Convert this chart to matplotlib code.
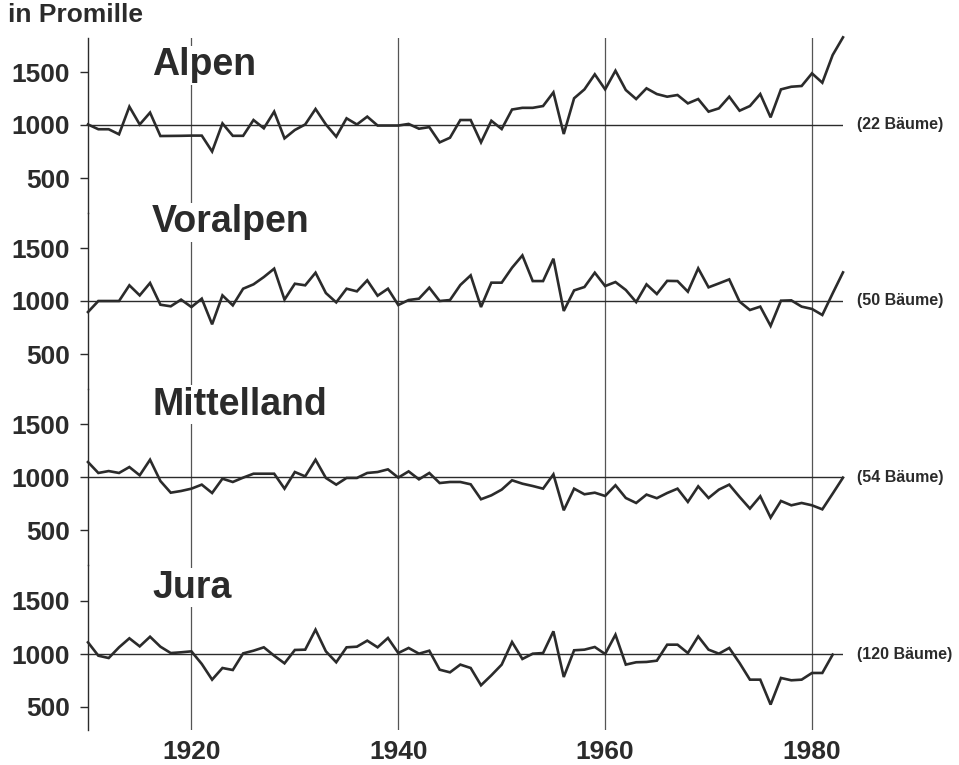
import numpy as np
import matplotlib
matplotlib.use("Agg")
import matplotlib.pyplot as plt

plt.rcParams['font.family'] = ['Liberation Sans', 'DejaVu Sans']
plt.rcParams['font.weight'] = 'bold'

years = np.arange(1910, 1984)

regions = ["Alpen", "Voralpen", "Mittelland", "Jura"]
trees = ["(22 Bäume)", "(50 Bäume)", "(54 Bäume)", "(120 Bäume)"]

alpen = [1005, 960, 960, 912, 1173, 1005, 1117, 896, 897, 898,
         900, 900, 750, 1015, 898, 898, 1047, 969, 1126, 874,
         953, 1005, 1151, 1005, 890, 1063, 1005, 1079, 995, 995,
         995, 1010, 965, 980, 836, 880, 1047, 1047, 836, 1040,
         962, 1146, 1162, 1162, 1179, 1308, 915, 1252, 1336, 1478,
         1336, 1512, 1330, 1245, 1346, 1292, 1267, 1283, 1204, 1245,
         1126, 1157, 1267, 1135, 1179, 1292, 1072, 1336, 1361, 1368,
         1487, 1399, 1660, 1827]

voralpen = [896, 1000, 1000, 1000, 1148, 1053, 1170, 965, 950, 1013,
            943, 1022, 780, 1053, 959, 1116, 1157, 1226, 1305, 1013,
            1163, 1148, 1267, 1075, 987, 1116, 1091, 1195, 1050, 1116,
            962, 1009, 1022, 1126, 1000, 1009, 1151, 1242, 943, 1173,
            1173, 1314, 1430, 1188, 1188, 1399, 906, 1100, 1132, 1267,
            1141, 1179, 1104, 990, 1157, 1066, 1190, 1188, 1088, 1308,
            1129, 1166, 1204, 994, 915, 947, 765, 1003, 1006, 947,
            925, 868, 1072, 1270]

mittelland = [1141, 1038, 1056, 1038, 1094, 1016, 1163, 962, 852, 868,
              890, 928, 849, 984, 953, 994, 1031, 1031, 1031, 890,
              1047, 1006, 1163, 991, 928, 991, 991, 1038, 1047, 1072,
              994, 1053, 978, 1038, 943, 953, 953, 931, 790, 827,
              881, 969, 937, 915, 890, 1025, 686, 890, 837, 852,
              821, 922, 802, 755, 834, 800, 849, 890, 765, 912,
              802, 881, 928, 812, 702, 818, 617, 774, 733, 755,
              733, 695, 843, 994]

jura = [1110, 984, 962, 1063, 1148, 1072, 1163, 1069, 1009, 1016,
        1025, 906, 758, 868, 849, 1006, 1031, 1063, 984, 912,
        1038, 1041, 1229, 1025, 922, 1063, 1069, 1126, 1063, 1151,
        1009, 1057, 1003, 1031, 852, 827, 900, 868, 705, 799,
        900, 1113, 953, 1003, 1009, 1214, 783, 1035, 1041, 1066,
        1000, 1182, 900, 922, 925, 937, 1088, 1088, 1009, 1166,
        1041, 1003, 1057, 915, 758, 758, 523, 774, 752, 758,
        821, 821, 994]

series = [alpen, voralpen, mittelland, jura]

W, H = 959, 765
fig = plt.figure(figsize=(W / 100, H / 100), dpi=100)

# pixel layout of the four stacked panels
left, right = 88, 843
base_px = [125, 301, 477, 654]
bounds = [38, 213, 389, 565, 730]
px_per_unit = 0.106
label_off = [1566, 1745, 1680, 1623]

ink = "#2b2b2b"
for i, name in enumerate(regions):
    top, bot = bounds[i], bounds[i + 1]
    ax = fig.add_axes([left / W, 1 - bot / H, (right - left) / W, (bot - top) / H])
    ax.patch.set_visible(False)
    ylo = 1000 - (bot - base_px[i]) / px_per_unit
    yhi = 1000 + (base_px[i] - top) / px_per_unit
    ax.set_xlim(1910, 1983)
    ax.set_ylim(ylo, yhi)
    for s in ["top", "right", "bottom"]:
        ax.spines[s].set_visible(False)
    ax.spines["left"].set_color(ink)
    ax.spines["left"].set_linewidth(1.0)

    for yr in [1920, 1940, 1960, 1980]:
        ax.axvline(yr, color="#555555", lw=0.9, zorder=1)
    ax.axhline(1000, color=ink, lw=1.0, zorder=2)

    vals = series[i]
    ax.plot(years[:len(vals)], vals, color=ink, lw=1.9, zorder=3,
            solid_joinstyle="miter", clip_on=False)

    ax.set_yticks([500, 1000, 1500])
    ax.tick_params(axis="y", direction="out", length=6, width=1.0,
                   color=ink, pad=7, labelsize=19, labelcolor=ink)
    ax.text(1916.2, label_off[i], name, fontsize=27, fontweight="bold",
            color=ink, va="center", ha="left", zorder=5,
            bbox=dict(facecolor="white", edgecolor="none", pad=1))
    ax.text(1984.4, 1000, trees[i], fontsize=11.5, fontweight="bold",
            color=ink, va="center", ha="left", clip_on=False)

    if i < 3:
        ax.set_xticks([])
    else:
        ax.set_xticks([1920, 1940, 1960, 1980])
        ax.tick_params(axis="x", length=0, pad=7, labelsize=19, labelcolor=ink)

fig.text(8 / W, 1 - 15 / H, "in Promille", fontsize=19, fontweight="bold",
         color=ink, va="center", ha="left")

fig.savefig("out.png", dpi=100)
